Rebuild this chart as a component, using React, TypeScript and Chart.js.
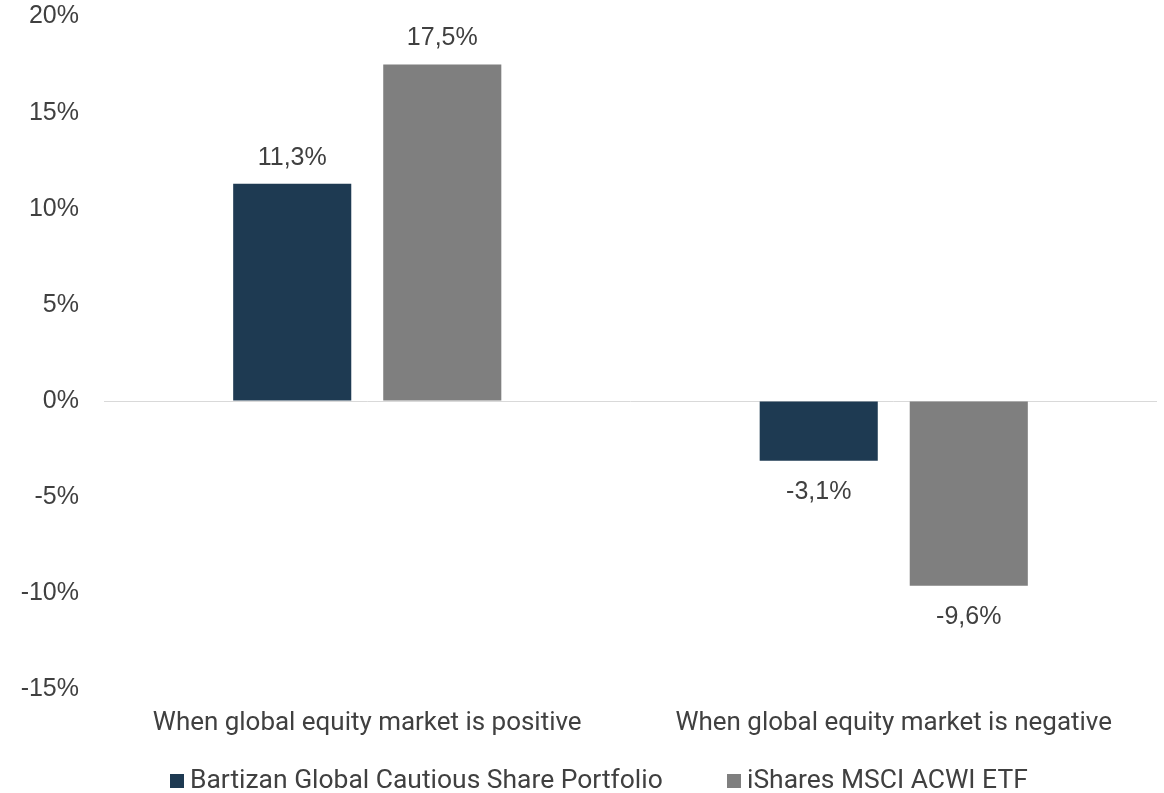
import React, { useEffect, useRef } from "react";
import { Chart, registerables } from "chart.js";

Chart.register(...registerables);

// ---- data ----
const categories = [
  "When global equity market is positive",
  "When global equity market is negative",
];
const seriesNames = ["Bartizan Global Cautious Share Portfolio", "iShares MSCI ACWI ETF"];
const bartizanValues = [11.3, -3.1];
const isharesValues = [17.5, -9.6];
const yTickValues = [-15, -10, -5, 0, 5, 10, 15, 20];
const seriesColors = ["#1E3A52", "#7F7F7F"];

// ---- styling ----
const W = 1164;
const H = 793;
const TEXT = "#404040";
const NUM_FONT = "'Liberation Sans', Arial, sans-serif";
const LABEL_FONT = "Roboto, 'Noto Sans', sans-serif";
const NUM_SIZE = 25;
const LEGEND_BOX_X = [170, 727];

function fitSize(text: string, family: string, target: number): number {
  const c = document.createElement("canvas").getContext("2d")!;
  c.font = `100px ${family}`;
  return (100 * target) / c.measureText(text).width;
}

const fmt = (v: number) => v.toFixed(1).replace(".", ",") + "%";

export default function App() {
  const ref = useRef<HTMLCanvasElement | null>(null);

  useEffect(() => {
    document.body.style.margin = "0";
    const catSize = fitSize(categories[0], LABEL_FONT, 429);
    const legendSize = fitSize(seriesNames[0], LABEL_FONT, 473);

    const chartTop = 16.5;
    const chartBottom = 689.5;
    const catCenter = 723.5;
    const lh = catSize * 1.2;
    const xPad = catCenter - chartBottom - lh / 2;
    const bottomPad = H - chartBottom - (2 * xPad + lh);

    const dataLabelPlugin = {
      id: "dataLabels",
      afterDatasetsDraw(chart: any) {
        const ctx = chart.ctx;
        ctx.save();
        ctx.font = `${NUM_SIZE}px ${NUM_FONT}`;
        ctx.fillStyle = TEXT;
        ctx.textAlign = "center";
        ctx.textBaseline = "middle";
        chart.data.datasets.forEach((ds: any, i: number) => {
          const meta = chart.getDatasetMeta(i);
          meta.data.forEach((el: any, j: number) => {
            const v = ds.data[j];
            const y = v >= 0 ? el.y - 26 : el.y + 31;
            ctx.fillText(fmt(v), el.x, y);
          });
        });
        ctx.restore();
      },
    };

    const legendPlugin = {
      id: "customLegend",
      afterDraw(chart: any) {
        const ctx = chart.ctx;
        ctx.save();
        ctx.font = `${legendSize}px ${LABEL_FONT}`;
        const box = 14;
        const gap = 6;
        const baseline = chart.height - 5;
        ctx.textBaseline = "alphabetic";
        ctx.textAlign = "left";
        chart.data.datasets.forEach((ds: any, i: number) => {
          const x = LEGEND_BOX_X[i];
          ctx.fillStyle = ds.backgroundColor;
          ctx.fillRect(x, baseline - box, box, box);
          ctx.fillStyle = TEXT;
          ctx.fillText(ds.label, x + box + gap, baseline);
        });
        ctx.restore();
      },
    };

    const chart = new Chart(ref.current!, {
      type: "bar",
      data: {
        labels: categories,
        datasets: [
          {
            label: seriesNames[0],
            data: bartizanValues,
            backgroundColor: seriesColors[0],
            categoryPercentage: 0.57,
            barPercentage: 0.787,
          },
          {
            label: seriesNames[1],
            data: isharesValues,
            backgroundColor: seriesColors[1],
            categoryPercentage: 0.57,
            barPercentage: 0.787,
          },
        ],
      },
      options: {
        responsive: false,
        animation: false,
        layout: { padding: { top: chartTop, right: 7, bottom: bottomPad, left: 0 } },
        plugins: {
          legend: { display: false },
          tooltip: { enabled: false },
        },
        scales: {
          x: {
            grid: { display: false, drawTicks: false },
            border: { display: false },
            ticks: {
              color: TEXT,
              padding: xPad,
              font: { family: LABEL_FONT, size: catSize, lineHeight: 1.2 },
              maxRotation: 0,
              autoSkip: false,
            },
          },
          y: {
            min: -15,
            max: 20,
            afterBuildTicks: (s: any) => {
              s.ticks = yTickValues.map((v) => ({ value: v }));
            },
            afterFit: (s: any) => {
              s.width = 104;
            },
            grid: {
              drawTicks: true,
              tickLength: 25,
              tickColor: "rgba(0,0,0,0)",
              color: (c: any) => (c.tick && c.tick.value === 0 ? "#D9D9D9" : "rgba(0,0,0,0)"),
              lineWidth: 1,
            },
            border: { display: false },
            ticks: {
              color: TEXT,
              padding: 0,
              font: { family: NUM_FONT, size: NUM_SIZE },
              callback: (v: any) => `${v}%`,
            },
          },
        },
      },
      plugins: [dataLabelPlugin, legendPlugin],
    });
    return () => chart.destroy();
  }, []);

  return (
    <div style={{ position: "fixed", left: 0, top: 0, width: W, height: H, background: "#fff" }}>
      <canvas ref={ref} width={W} height={H} style={{ display: "block" }} />
    </div>
  );
}
